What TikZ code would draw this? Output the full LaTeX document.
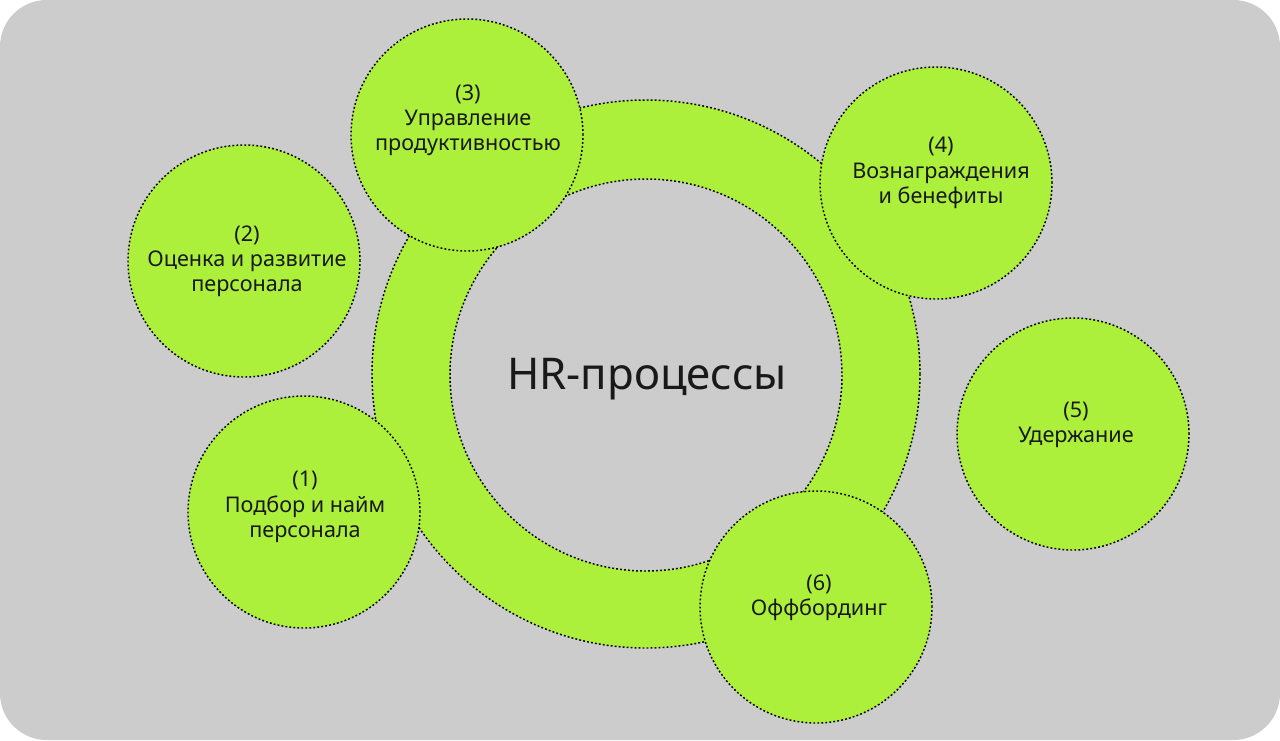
\documentclass[tikz,border=0pt]{standalone}
\usepackage{fontspec}
\setmainfont{Noto Sans}
\definecolor{bggray}{RGB}{204,204,204}
\definecolor{lime}{RGB}{173,240,60}
\tikzset{
  dotline/.style={draw=black, line width=1.1pt, dash pattern=on 1.4pt off 1.6pt},
  bubble/.style={circle, fill=lime, dotline, minimum size=174pt, inner sep=0pt},
  lbl/.style={align=center, font=\fontsize{16.2}{18.9}\selectfont, text=black!90, inner sep=0pt},
}
\begin{document}
\begin{tikzpicture}[x=0.75pt,y=-0.75pt]
\useasboundingbox (0,0) rectangle (1280,740);
\fill[bggray, rounded corners=35pt] (0,0) rectangle (1280,740);
% ring
\fill[lime, even odd rule] (646,374) circle[radius=274] (646,375) circle[radius=196];
\draw[dotline] (646,374) circle[radius=274];
\draw[dotline] (646,375) circle[radius=196];
\node[font=\fontsize{32.8}{38}\selectfont, text=black!90, anchor=base, inner sep=0pt] (hr) at (647,389) {HR-процессы};
% bubbles
\node[bubble] (c1) at (304,512) {};
\node[bubble] (c2) at (244,261) {};
\node[bubble] (c3) at (467,135) {};
\node[bubble] (c4) at (936,183) {};
\node[bubble] (c5) at (1073,434) {};
\node[bubble] (c6) at (816,607) {};
% labels
\node[lbl] (t1) at (305,507) {(1)\\Подбор и найм\\персонала};
\node[lbl] (t2) at (247,261) {(2)\\Оценка и развитие\\персонала};
\node[lbl] (t3) at (468,120) {(3)\\Управление\\продуктивностью};
\node[lbl] (t4) at (941,173) {(4)\\Вознаграждения\\и бенефиты};
\node[lbl] (t5) at (1076,425) {(5)\\Удержание};
\node[lbl] (t6) at (819,598) {(6)\\Оффбординг};
\end{tikzpicture}
\end{document}
